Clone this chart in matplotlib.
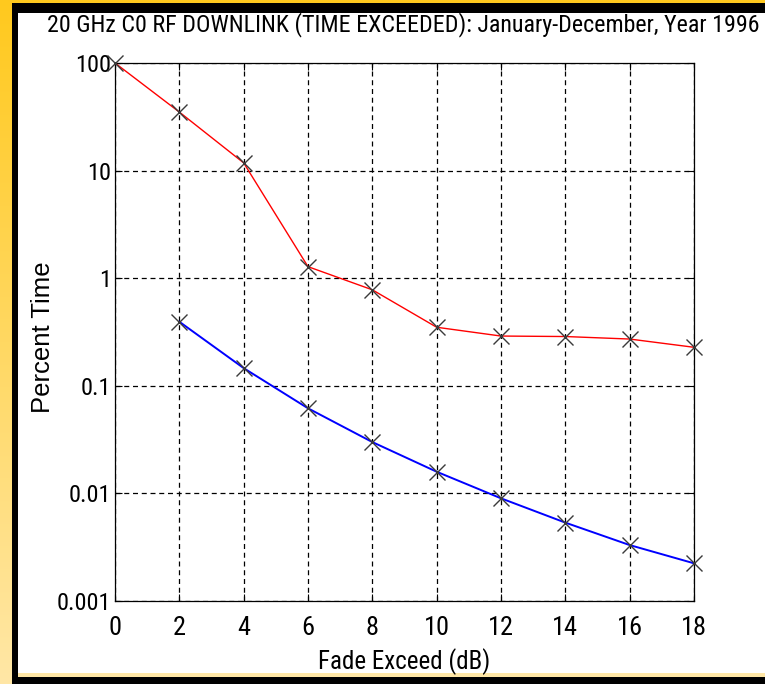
import numpy as np
import matplotlib
matplotlib.use("Agg")
import matplotlib.pyplot as plt
from matplotlib.patches import Rectangle
from matplotlib.ticker import FixedLocator, FixedFormatter, NullLocator

# data
fade_db = [0, 2, 4, 6, 8, 10, 12, 14, 16, 18]
red_pct = [100, 35, 11.8, 1.28, 0.78, 0.35, 0.29, 0.287, 0.272, 0.228]
blue_db = [2, 4, 6, 8, 10, 12, 14, 16, 18]
blue_pct = [0.394, 0.146, 0.0618, 0.030, 0.0159, 0.0090, 0.00535, 0.00331, 0.00224]

y_ticks = [0.001, 0.01, 0.1, 1, 10, 100]
y_labels = ["0.001", "0.01", "0.1", "1", "10", "100"]
x_ticks = list(range(0, 19, 2))

title = "20 GHz C0 RF DOWNLINK (TIME EXCEEDED): January-December, Year 1996"

narrow = ["Roboto Condensed", "DejaVu Sans"]
W, H = 765, 684

fig = plt.figure(figsize=(W / 100, H / 100), dpi=100)
fig.patch.set_facecolor("white")

# slide-style frame: yellow gradient, black border, white panel
bg = fig.add_axes([0, 0, 1, 1], zorder=-10)
bg.set_xlim(0, W)
bg.set_ylim(H, 0)
bg.axis("off")
grad = np.linspace(0, 1, 256).reshape(-1, 1)
cmap = matplotlib.colors.LinearSegmentedColormap.from_list("yel", ["#ffc91e", "#ffe7a6"])
bg.imshow(grad, cmap=cmap, extent=[0, W, H, 0], aspect="auto")
bg.add_patch(Rectangle((12, 3), W - 12, H - 3, color="black", lw=0))
bg.add_patch(Rectangle((18, 13), W - 18, 660, color="white", lw=0))
bg.add_patch(Rectangle((18, 673), W - 18, 4, color="#ffe7a6", lw=0))

ax = fig.add_axes([115 / W, 1 - 601 / H, (694 - 115) / W, (601 - 63) / H])
ax.set_facecolor("white")

ax.plot(fade_db, red_pct, color="#ff0000", lw=1.0, zorder=3)
ax.plot(blue_db, blue_pct, color="#0000ff", lw=1.4, zorder=3)
ax.plot(fade_db, red_pct, ls="none", marker="x", ms=12, mew=1.0, color="#3a3a3a", zorder=4, clip_on=False)
ax.plot(blue_db, blue_pct, ls="none", marker="x", ms=12, mew=1.0, color="#3a3a3a", zorder=4, clip_on=False)

ax.set_yscale("log")
ax.set_xlim(0, 18)
ax.set_ylim(0.001, 100)
ax.xaxis.set_major_locator(FixedLocator(x_ticks))
ax.yaxis.set_major_locator(FixedLocator(y_ticks))
ax.yaxis.set_major_formatter(FixedFormatter(y_labels))
ax.yaxis.set_minor_locator(NullLocator())

ax.grid(True, which="major", color="black", ls=(0, (4, 3)), lw=0.9)
ax.tick_params(direction="in", length=5, width=0.8, top=True, right=True)
for s in ax.spines.values():
    s.set_linewidth(0.9)

for lab in ax.get_xticklabels():
    lab.set_family(narrow)
    lab.set_fontsize(19)
for lab in ax.get_yticklabels():
    lab.set_family(narrow)
    lab.set_fontsize(17.5)
ax.tick_params(axis="x", pad=11)
ax.tick_params(axis="y", pad=3)

ax.set_xlabel("Fade Exceed (dB)", family=narrow, fontsize=18, labelpad=6)
fig.text(43.5 / W, 1 - 337 / H, "Percent Time", rotation=90, ha="center", va="center",
         family=["Liberation Sans", "DejaVu Sans"], fontsize=18.5)
fig.text(403 / W, 1 - 25 / H, title, ha="center", va="center", family=narrow, fontsize=17.3)

fig.savefig("out.png", dpi=100)
